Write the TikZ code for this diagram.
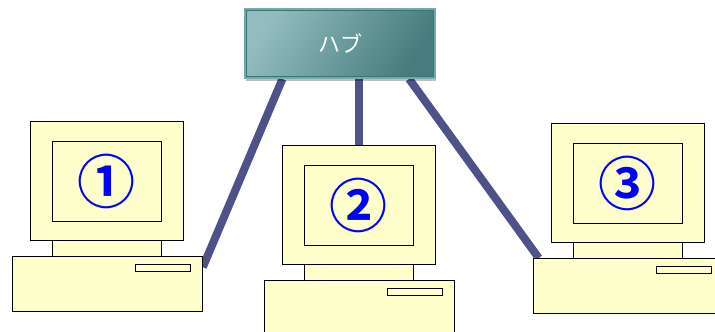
\documentclass[tikz,border=0pt]{standalone}
\usepackage{fontspec}
\newfontfamily\jpfont{Noto Sans CJK JP}[BoldFont={Noto Sans CJK JP Bold}]
\usetikzlibrary{calc,shadows}

\definecolor{pcfill}{HTML}{FFFFCC}
\definecolor{linkcol}{HTML}{4F5189}
\definecolor{hublight}{HTML}{92BCBE}
\definecolor{hubdark}{HTML}{467C7D}
\definecolor{hubedge}{HTML}{74AAAA}
\definecolor{hubinner}{HTML}{3E7272}
\definecolor{numblue}{HTML}{0000FF}

\pgfdeclarelayer{background}
\pgfsetlayers{background,main}

\tikzset{
  part/.style={draw=black, fill=pcfill, line width=0.8pt, inner sep=0pt,
    anchor=north west,
    drop shadow={shadow xshift=0.8pt, shadow yshift=-0.8pt, fill=black, opacity=0.35}},
  numlabel/.style={text=numblue, font=\jpfont\bfseries\fontsize{58}{58}\selectfont, inner sep=0pt},
  hubbox/.style={minimum width=190pt, minimum height=69pt, inner sep=0pt,
    draw=hubedge, line width=2pt,
    left color=hublight, right color=hubdark, shading angle=60,
    text=white, font=\jpfont\fontsize{22}{22}\selectfont,
    drop shadow={shadow xshift=1pt, shadow yshift=-2.5pt, fill=black, opacity=0.25}},
  link/.style={draw=linkcol, line width=8pt},
  % one desktop computer: monitor, screen, neck, base and drive slot
  computer/.pic={
    \node[part, minimum width=153pt, minimum height=119pt] (-monitor) at (0,0) {};
    \node[part, minimum width=109pt, minimum height=80pt] (-screen) at (22,20) {};
    \node[part, minimum width=109pt, minimum height=16pt] (-neck) at (22,119) {};
    \node[part, minimum width=190pt, minimum height=55pt] (-base) at (-18,135) {};
    \node[part, minimum width=55pt, minimum height=6.5pt] (-slot) at (105,143) {};
    \node[numlabel] (-label) at (-screen.center) {#1};
  }
}

\begin{document}
\begin{tikzpicture}[x=1pt, y=-1pt]
  \useasboundingbox (0,0) rectangle (715,332);

  % hub
  \node[hubbox] (hub) at (340,43.5) {ハブ};
  \draw[hubinner, line width=0.7pt]
    ($(hub.north west)+(2.5,2.5)$) rectangle ($(hub.south east)+(-2.5,-2.5)$);

  % computers
  \pic (pc1) at (30,121) {computer=①};
  \pic (pc2) at (282,145) {computer=②};
  \pic (pc3) at (551,123) {computer=③};

  % cables, behind everything
  \begin{pgfonlayer}{background}
    \draw[link] ($(hub.south west)!0.2!(hub.south east)$)
      -- ($(pc1-base.north east)!0.2!(pc1-base.south east)$);
    \draw[link] (pc2-monitor.north |- hub.south) -- (pc2-monitor.north);
    \draw[link] ($(hub.south west)!0.86!(hub.south east)$)
      -- ($(pc3-base.north west)!0.03!(pc3-base.north east)$);
  \end{pgfonlayer}
\end{tikzpicture}
\end{document}
